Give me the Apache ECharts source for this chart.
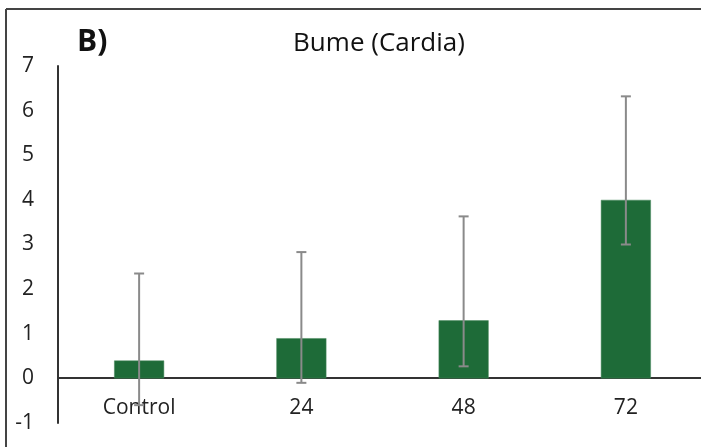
<!DOCTYPE html>
<html><head><meta charset="utf-8">
<script src="https://cdn.jsdelivr.net/npm/echarts@6/dist/echarts.min.js"></script>
<style>html,body{margin:0;padding:0;background:#fff}#c{width:701px;height:447px}</style>
</head><body><div id="c"></div>
<script>
const categories = ['Control', '24', '48', '72'];
const means = [0.4, 0.9, 1.3, 4.0];
const errUpper = [2.35, 2.83, 3.63, 6.32];
const errLower = [-0.6, -0.1, 0.27, 3.0];
const yTicks = [-1, 0, 1, 2, 3, 4, 5, 6, 7];

const chart = echarts.init(document.getElementById('c'));
const font = '"Open Sans", "Liberation Sans", sans-serif';
chart.setOption({
  animation: false,
  backgroundColor: '#fff',
  title: {
    text: 'Bume (Cardia)', left: 374, top: 26, textAlign: 'center',
    textStyle: { fontFamily: font, fontSize: 26, fontWeight: 'normal', color: '#111' }
  },
  graphic: [
    { type: 'text', left: 77, top: 27, style: { text: 'B)', font: 'bold 30px ' + font, fill: '#111' } },
    { type: 'line', shape: { x1: 6, y1: 9, x2: 701, y2: 9 }, style: { stroke: '#444', lineWidth: 2 } },
    { type: 'line', shape: { x1: 6, y1: 9, x2: 6, y2: 447 }, style: { stroke: '#444', lineWidth: 2 } }
  ],
  grid: { left: 58, top: 66, bottom: 24, right: -6, containLabel: false, outerBoundsMode: 'none' },
  xAxis: {
    type: 'category', data: categories, position: 'bottom', offset: -45,
    axisLine: { onZero: false, lineStyle: { color: '#333', width: 2 } },
    axisTick: { show: false },
    axisLabel: { fontFamily: font, fontSize: 21, color: '#222', margin: 20 }
  },
  yAxis: {
    type: 'value', min: yTicks[0], max: yTicks[yTicks.length - 1], interval: 1,
    axisLine: { show: true, lineStyle: { color: '#333', width: 2 } },
    axisTick: { show: false },
    splitLine: { show: false },
    axisLabel: { fontFamily: font, fontSize: 21, color: '#222', margin: 24 }
  },
  series: [
    {
      type: 'bar', data: means, barWidth: 50,
      itemStyle: { color: '#1e6b38', borderColor: '#4a8a5e', borderWidth: 0.5 },
      z: 2
    },
    {
      type: 'custom', z: 3,
      data: categories.map((c, i) => [i, errLower[i], errUpper[i]]),
      renderItem: function (params, api) {
        const i = api.value(0);
        const lo = api.coord([i, api.value(1)]);
        const hi = api.coord([i, api.value(2)]);
        const hw = 5;
        const st = { stroke: '#8a8a8a', lineWidth: 2 };
        return {
          type: 'group', children: [
            { type: 'line', shape: { x1: hi[0], y1: hi[1], x2: lo[0], y2: lo[1] }, style: st },
            { type: 'line', shape: { x1: hi[0] - hw, y1: hi[1], x2: hi[0] + hw, y2: hi[1] }, style: st },
            { type: 'line', shape: { x1: lo[0] - hw, y1: lo[1], x2: lo[0] + hw, y2: lo[1] }, style: st }
          ]
        };
      }
    }
  ]
});
</script></body></html>
